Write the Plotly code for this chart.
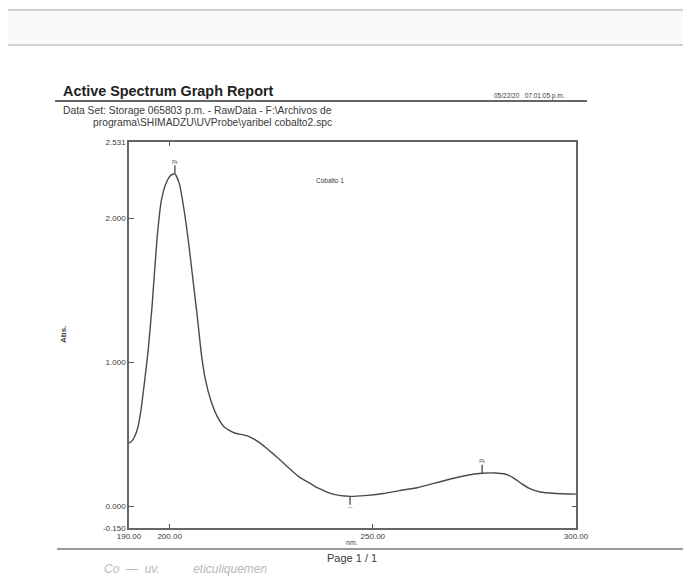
import plotly.graph_objects as go

# spectrum (wavelength in nm, absorbance)
wavelength = [190.0, 190.6, 191.3, 192.2, 193.0, 193.8, 194.7, 195.7, 196.9, 198.0,
              199.2, 200.3, 201.3, 202.4, 203.6, 204.8, 205.8, 206.8, 207.8, 208.8,
              210.2, 211.8, 213.5, 216.0, 219.1, 222.3, 226.5, 230.0, 232.1, 234.6,
              236.3, 240.2, 244.4, 248.0, 252.6, 256.5, 260.9, 265.0, 269.1, 273.0,
              276.9, 280.0, 282.5, 284.5, 286.5, 288.5, 291.2, 295.0, 300.0]
absorbance = [0.44, 0.45, 0.48, 0.55, 0.68, 0.86, 1.08, 1.40, 1.86, 2.13,
              2.25, 2.30, 2.31, 2.24, 2.05, 1.80, 1.56, 1.32, 1.06, 0.88,
              0.73, 0.62, 0.55, 0.51, 0.49, 0.44, 0.34, 0.25, 0.20, 0.16,
              0.13, 0.085, 0.07, 0.075, 0.09, 0.11, 0.13, 0.16, 0.19, 0.215,
              0.23, 0.232, 0.225, 0.20, 0.16, 0.125, 0.10, 0.09, 0.085]

peak_nm = [201.3, 276.9]
peak_abs = [2.31, 0.23]
valley_nm = [244.4]
valley_abs = [0.07]

x_ticks = [190, 200, 250, 300]
x_ticktext = ["190.00", "200.00", "250.00", "300.00"]
y_ticks = [-0.15, 0.0, 1.0, 2.0, 2.531]
y_ticktext = ["-0.150", "0.000", "1.000", "2.000", "2.531"]

# the page body keeps an 8px margin, so the figure is drawn 8px smaller
OFF = 8
W, H = 691 - OFF, 588 - OFF
L, R, T, B = 129, 576, 142, 528  # plot area in window pixels
FONT = "Liberation Sans, Arial, sans-serif"
INK = "#3a3a3a"


def px(x):
    return (x - L) / (R - L)


def py(y):
    return (B - y) / (B - T)


fig = go.Figure()

fig.add_trace(go.Scatter(
    x=wavelength, y=absorbance, mode="lines",
    line=dict(color="#4a4a4a", width=1.4, shape="spline", smoothing=0.5),
    hoverinfo="skip", showlegend=False,
))

# peak / valley pick marks
fig.add_trace(go.Scatter(
    x=peak_nm, y=[a + 0.03 for a in peak_abs], mode="markers+text",
    marker=dict(symbol="line-ns", size=6, line=dict(width=1.4, color="#555")),
    text=["Pk", "Pk"], textposition="top center",
    textfont=dict(size=5, color="#555", family=FONT),
    showlegend=False, hoverinfo="skip",
))
fig.add_trace(go.Scatter(
    x=valley_nm, y=[a - 0.03 for a in valley_abs], mode="markers+text",
    marker=dict(symbol="line-ns", size=6, line=dict(width=1.4, color="#555")),
    text=["\u2014"], textposition="bottom center",
    textfont=dict(size=5, color="#555", family=FONT),
    showlegend=False, hoverinfo="skip",
))

# invisible trace so the mirrored tick axes get drawn
fig.add_trace(go.Scatter(x=[190, 300], y=[-0.15, 2.531], mode="markers",
                         marker=dict(opacity=0), xaxis="x2", yaxis="y2",
                         showlegend=False, hoverinfo="skip"))

axis_font = dict(size=8, color=INK, family=FONT)
fig.update_layout(
    width=W, height=H,
    margin=dict(l=L - OFF, r=691 - R, t=T - OFF, b=588 - B),
    paper_bgcolor="white", plot_bgcolor="white",
    xaxis=dict(range=[190, 300], tickvals=x_ticks, ticktext=x_ticktext,
               ticks="inside", ticklen=4, tickcolor="#555", tickfont=axis_font,
               showgrid=False, zeroline=False, showline=True, mirror=True,
               linecolor="#666", linewidth=1.6),
    yaxis=dict(range=[-0.15, 2.531], tickvals=y_ticks, ticktext=y_ticktext,
               ticks="inside", ticklen=5, tickcolor="#555", tickfont=axis_font,
               showgrid=False, zeroline=False, showline=True, mirror=True,
               linecolor="#666", linewidth=1.6),
    xaxis2=dict(overlaying="x", side="top", matches="x", tickvals=[200],
                ticks="inside", ticklen=4, tickcolor="#555",
                showticklabels=False, showgrid=False, zeroline=False),
    yaxis2=dict(overlaying="y", side="right", matches="y", tickvals=[0],
                ticks="inside", ticklen=4, tickcolor="#555",
                showticklabels=False, showgrid=False, zeroline=False),
)

shapes = [
    # light band at the top of the scan
    dict(type="rect", xref="paper", yref="paper", x0=px(5), x1=px(700),
         y0=py(45), y1=py(10), fillcolor="#fafafa", line=dict(color="#c4c4c4", width=1.5)),
    # rule under the report title
    dict(type="line", xref="paper", yref="paper", x0=px(55), x1=px(587),
         y0=py(101), y1=py(101), line=dict(color="#666", width=2.2)),
    # footer rule
    dict(type="line", xref="paper", yref="paper", x0=px(57), x1=px(700),
         y0=py(549), y1=py(549), line=dict(color="#999", width=2)),
]
fig.update_layout(shapes=shapes)


def note(text, x, y, size, xanchor="left", **kw):
    fig.add_annotation(text=text, xref="paper", yref="paper", x=px(x), y=py(y),
                       xanchor=xanchor, yanchor="middle", showarrow=False,
                       font=dict(size=size, color=kw.pop("color", INK), family=FONT), **kw)


note("<b>Active Spectrum Graph Report</b>", 61, 91, 14.4, color="#222")
note("05/22/20   07:01:05 p.m.", 567, 96, 6.5, xanchor="right")
note("Data Set: Storage 065803 p.m. - RawData - F:\\Archivos de", 61, 111, 10.3)
note("programa\\SHIMADZU\\UVProbe\\yaribel cobalto2.spc", 91, 122, 10.3)
note("Cobalto 1", 330, 180, 6.5, xanchor="center")
note("<b>Abs.</b>", 63, 335, 8, xanchor="center", textangle=-90)
note("nm.", 352, 542, 7, xanchor="center")
note("Page 1 / 1", 352, 558, 11, xanchor="center")
note("<i>Co  \u2014  uv.          eticuliquemen</i>", 102, 569, 12, color="#b8b8b8")

fig.write_html("out.html")
